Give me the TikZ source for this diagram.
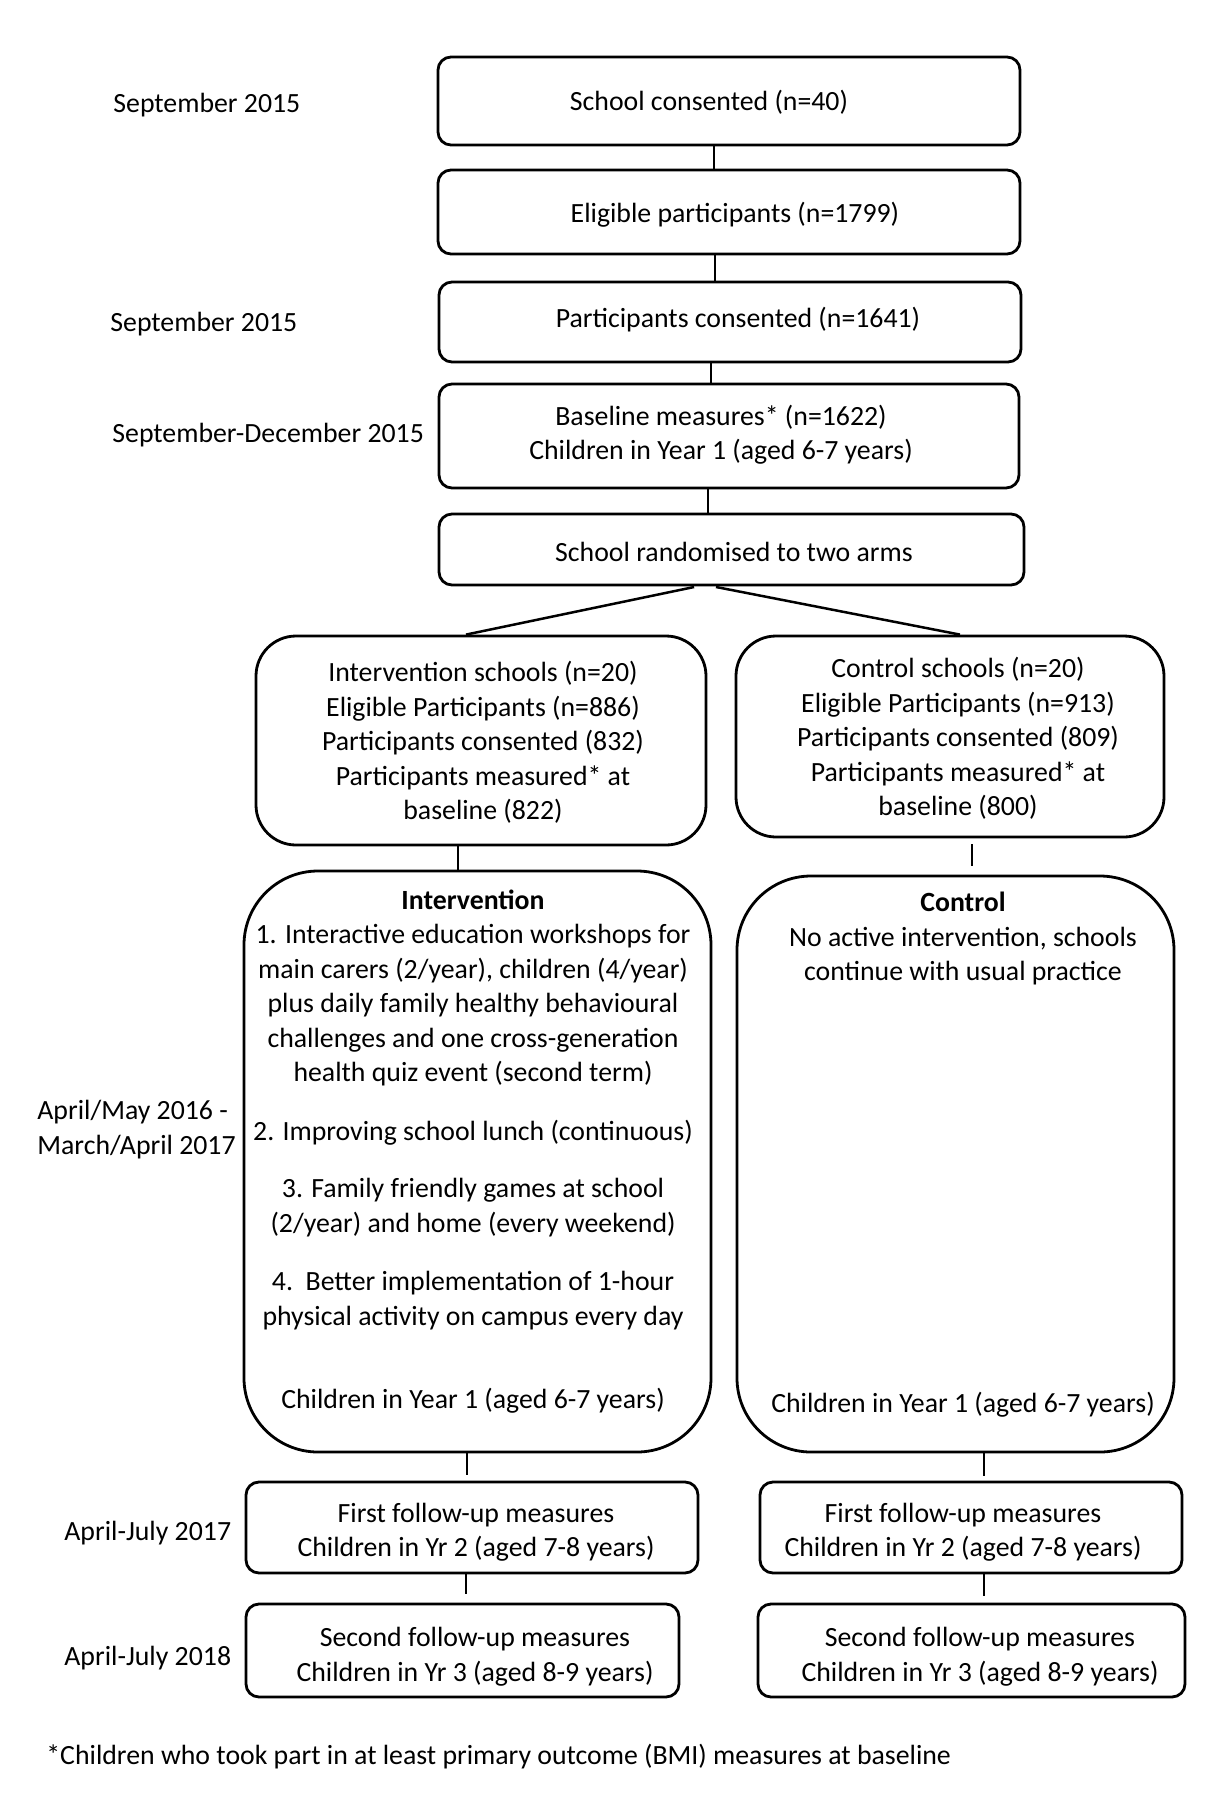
\documentclass[tikz,border=0pt]{standalone}
\usepackage{fontspec}
\setmainfont{Carlito}
\usetikzlibrary{fit}
\begin{document}
\begin{tikzpicture}[x=0.5pt,y=-0.5pt,
  box/.style={draw, line width=1.4pt, rounded corners=6.5pt, inner sep=0pt},
  midbox/.style={box, rounded corners=20pt},
  bigbox/.style={box, rounded corners=37pt},
  txt/.style={inner sep=0pt, align=center, font=\fontsize{13.9}{17.25}\selectfont},
  lbl/.style={inner sep=0pt, anchor=west, align=left, font=\fontsize{13.9}{17.25}\selectfont},
  conn/.style={line width=1.25pt}]
\useasboundingbox (0,0) rectangle (1225,1800);
% boxes
\node[box, fit={(438,57) (1020,145)}] (b1) {};
\node[box, fit={(438,170) (1020,254)}] (b2) {};
\node[box, fit={(439,282) (1021,362)}] (b3) {};
\node[box, fit={(439,384) (1019,488)}] (b4) {};
\node[box, fit={(439,514) (1024,585)}] (b5) {};
\node[midbox, fit={(256,636) (706,845)}] (isch) {};
\node[midbox, fit={(736,636) (1164,837)}] (csch) {};
\node[bigbox, fit={(244,871) (711,1452)}] (ib) {};
\node[bigbox, fit={(737,876) (1174,1452)}] (cb) {};
\node[box, fit={(246,1482) (698,1573)}] (f1) {};
\node[box, fit={(760,1482) (1182,1573)}] (f2) {};
\node[box, fit={(246,1604) (679,1697)}] (s1) {};
\node[box, fit={(758,1604) (1185,1697)}] (s2) {};
% texts in boxes
\node[txt] (t1) at (709,102) {School consented (n=40)};
\node[txt] (t2) at (735,215) {Eligible participants (n=1799)};
\node[txt] (t3) at (738,320) {Participants consented (n=1641)};
\node[txt] (t4) at (721,434.5) {Baseline measures* (n=1622)\\Children in Year 1 (aged 6-7 years)};
\node[txt] (t5) at (734,552) {School randomised to two arms};
\node[txt] (ti) at (483,742.5) {Intervention schools (n=20)\\Eligible Participants (n=886)\\Participants consented (832)\\Participants measured* at\\baseline (822)};
\node[txt] (tc) at (958,738.5) {Control schools (n=20)\\Eligible Participants (n=913)\\Participants consented (809)\\Participants measured* at\\baseline (800)};
\node[txt] (ti1) at (473,988) {\textbf{Intervention}\\1. Interactive education workshops for\\main carers (2/year), children (4/year)\\plus daily family healthy behavioural\\challenges and one cross-generation\\health quiz event (second term)};
\node[txt] (ti2) at (473,1133) {2. Improving school lunch (continuous)};
\node[txt] (ti3) at (473,1207.5) {3. Family friendly games at school\\(2/year) and home (every weekend)};
\node[txt] (ti4) at (473,1300.5) {4.\ \ Better implementation of 1-hour\\physical activity on campus every day};
\node[txt] (ti5) at (473,1401) {Children in Year 1 (aged 6-7 years)};
\node[txt] (tc1) at (963,938.5) {\textbf{Control}\\No active intervention, schools\\continue with usual practice};
\node[txt] (tc2) at (963,1405) {Children in Year 1 (aged 6-7 years)};
\node[txt] (tf1) at (476,1532) {First follow-up measures\\Children in Yr 2 (aged 7-8 years)};
\node[txt] (tf2) at (963,1532) {First follow-up measures\\Children in Yr 2 (aged 7-8 years)};
\node[txt] (ts1) at (475,1656.5) {Second follow-up measures\\Children in Yr 3 (aged 8-9 years)};
\node[txt] (ts2) at (980,1656.5) {Second follow-up measures\\Children in Yr 3 (aged 8-9 years)};
% left labels
\node[lbl] (l1) at (113,105) {September 2015};
\node[lbl] (l2) at (110,324) {September 2015};
\node[lbl] (l3) at (112,435) {September-December 2015};
\node[lbl] (l4) at (37,1129.5) {April/May 2016 -\\March/April 2017};
\node[lbl] (l5) at (64,1533) {April-July 2017};
\node[lbl] (l6) at (64,1658) {April-July 2018};
\node[lbl] (fn) at (46,1757) {*Children who took part in at least primary outcome (BMI) measures at baseline};
% x positions of connectors
\coordinate (x1) at (714,0);
\coordinate (x2) at (715,0);
\coordinate (x3) at (711,0);
\coordinate (x4) at (708,0);
\coordinate (xi) at (458,0);
\coordinate (xc) at (972,0);
\coordinate (xi2) at (467,0);
\coordinate (xi3) at (466,0);
\coordinate (xc2) at (984,0);
\coordinate (dl) at (697,0);
\coordinate (dr) at (713,0);
\coordinate (el) at (466,0);
\coordinate (er) at (960,0);
% connectors
\draw[conn] (b1.south -| x1) -- (b2.north -| x1);
\draw[conn] (b2.south -| x2) -- (b3.north -| x2);
\draw[conn] (b3.south -| x3) -- (b4.north -| x3);
\draw[conn] (b4.south -| x4) -- (b5.north -| x4);
\draw[conn, shorten <=1.5pt] (b5.south -| dl) -- (isch.north -| el);
\draw[conn, shorten <=1.5pt] (b5.south -| dr) -- (csch.north -| er);
\draw[conn] (isch.south -| xi) -- (ib.north -| xi);
\draw[conn, shorten <=3pt, shorten >=4.5pt] (csch.south -| xc) -- (cb.north -| xc);
\draw[conn, shorten >=3pt] (ib.south -| xi2) -- (f1.north -| xi2);
\draw[conn, shorten >=4.5pt] (f1.south -| xi3) -- (s1.north -| xi3);
\draw[conn, shorten >=2.5pt] (cb.south -| xc2) -- (f2.north -| xc2);
\draw[conn, shorten >=3.5pt] (f2.south -| xc2) -- (s2.north -| xc2);
\end{tikzpicture}
\end{document}
